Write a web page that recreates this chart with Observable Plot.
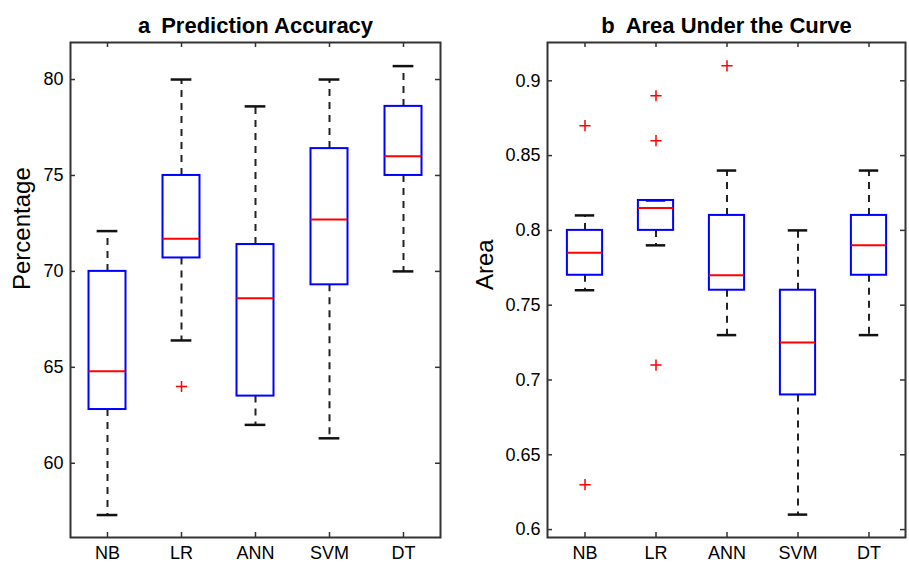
<!DOCTYPE html>
<html><head><meta charset="utf-8">
<script src="https://cdn.jsdelivr.net/npm/d3@7"></script>
<script src="https://cdn.jsdelivr.net/npm/@observablehq/plot@0.6"></script>
<style>
body{margin:0;background:#fff;}
#wrap{position:relative;width:909px;height:566px;overflow:hidden;}
#a,#b{position:absolute;top:0;}
#a{left:0px} #b{left:455px}
</style></head><body><div id="wrap"><div id="a"></div><div id="b"></div></div>
<script>
const categories = ["NB", "LR", "ANN", "SVM", "DT"];

// Panel a: Prediction Accuracy (Percentage)
const accLowerWhisker = [57.3, 66.4, 62.0, 61.3, 70.0];
const accQ1           = [62.8, 70.7, 63.5, 69.3, 75.0];
const accMedian       = [64.8, 71.7, 68.6, 72.7, 76.0];
const accQ3           = [70.0, 75.0, 71.4, 76.4, 78.6];
const accUpperWhisker = [72.1, 80.0, 78.6, 80.0, 80.7];
const accOutlierCats   = ["LR"];
const accOutlierValues = [64.0];
const accTicks = [60, 65, 70, 75, 80];

// Panel b: Area Under the Curve
const aucLowerWhisker = [0.76, 0.79, 0.73, 0.61, 0.73];
const aucQ1           = [0.77, 0.80, 0.76, 0.69, 0.77];
const aucMedian       = [0.785, 0.815, 0.77, 0.725, 0.79];
const aucQ3           = [0.80, 0.82, 0.81, 0.76, 0.81];
const aucUpperWhisker = [0.81, 0.82, 0.84, 0.80, 0.84];
const aucOutlierCats   = ["NB", "NB", "LR", "LR", "LR", "ANN"];
const aucOutlierValues = [0.87, 0.63, 0.89, 0.86, 0.71, 0.91];
const aucTicks = [0.6, 0.65, 0.7, 0.75, 0.8, 0.85, 0.9];

function panel({title, ylabel, yDomain, ticks, lo, q1, med, q3, hi, oc, ov, width, marginLeft, marginRight, labelDx}) {
  const height = 566, marginTop = 42, marginBottom = 29;
  const fw = width - marginLeft - marginRight;
  const fh = height - marginTop - marginBottom;
  const bw = fw / categories.length;
  const boxInset = bw * 0.25, capInset = bw * 0.36;
  const stats = categories.map((c, i) => ({cat: c, lo: lo[i], q1: q1[i], med: med[i], q3: q3[i], hi: hi[i]}));
  const outliers = oc.map((c, i) => ({cat: c, value: ov[i]}));
  const axisColor = "#333";
  return Plot.plot({
    width, height, marginTop, marginBottom, marginLeft, marginRight,
    style: {fontFamily: "'Liberation Sans', Arial, Helvetica, sans-serif", fontSize: "18px", color: "#000", background: "#fff"},
    x: {type: "band", domain: categories, padding: 0},
    y: {domain: yDomain},
    marks: [
      Plot.axisX({tickSize: 0, tickPadding: 9, label: null, fontSize: 18}),
      Plot.axisY({ticks, tickSize: 0, tickPadding: 7, tickFormat: d => String(d), label: null, fontSize: 18}),
      Plot.tickY(ticks, {y: d => d, insetRight: fw - 5, stroke: axisColor, strokeWidth: 1.5}),
      Plot.tickY(ticks, {y: d => d, insetLeft: fw - 5, stroke: axisColor, strokeWidth: 1.5}),
      Plot.tickX(categories, {x: d => d, insetTop: fh - 5, stroke: axisColor, strokeWidth: 1.5}),
      Plot.tickX(categories, {x: d => d, insetBottom: fh - 5, stroke: axisColor, strokeWidth: 1.5}),
      Plot.ruleX(stats, {x: "cat", y1: "q3", y2: "hi", stroke: "#222", strokeWidth: 2, strokeDasharray: "7,6"}),
      Plot.ruleX(stats, {x: "cat", y1: "q1", y2: "lo", stroke: "#222", strokeWidth: 2, strokeDasharray: "7,6"}),
      Plot.tickY(stats, {x: "cat", y: "hi", insetLeft: capInset, insetRight: capInset, stroke: "#111", strokeWidth: 2.5}),
      Plot.tickY(stats, {x: "cat", y: "lo", insetLeft: capInset, insetRight: capInset, stroke: "#111", strokeWidth: 2.5}),
      Plot.barY(stats, {x: "cat", y1: "q1", y2: "q3", insetLeft: boxInset, insetRight: boxInset, fill: "none", stroke: "#0000ff", strokeWidth: 2}),
      Plot.tickY(stats, {x: "cat", y: "med", insetLeft: boxInset, insetRight: boxInset, stroke: "#ff0000", strokeWidth: 2}),
      Plot.dot(outliers, {x: "cat", y: "value", symbol: "plus", r: 3.7, stroke: "#ff0000", strokeWidth: 1.5}),
      Plot.frame({stroke: axisColor, strokeWidth: 2}),
      Plot.text([title], {frameAnchor: "top", dy: -10, lineAnchor: "bottom", fontSize: 22, fontWeight: "bold", fill: "#000"}),
      Plot.text([ylabel], {frameAnchor: "left", dx: -labelDx, rotate: -90, fontSize: 24, fill: "#000"})
    ]
  });
}

document.getElementById("a").appendChild(panel({
  title: "a\u2002Prediction Accuracy", ylabel: "Percentage",
  yDomain: [56.13, 81.93], ticks: accTicks,
  lo: accLowerWhisker, q1: accQ1, med: accMedian, q3: accQ3, hi: accUpperWhisker,
  oc: accOutlierCats, ov: accOutlierValues,
  width: 455, marginLeft: 70, marginRight: 15, labelDx: 48
}));
document.getElementById("b").appendChild(panel({
  title: "b\u2002Area Under the Curve", ylabel: "Area",
  yDomain: [0.5947, 0.9256], ticks: aucTicks,
  lo: aucLowerWhisker, q1: aucQ1, med: aucMedian, q3: aucQ3, hi: aucUpperWhisker,
  oc: aucOutlierCats, ov: aucOutlierValues,
  width: 454, marginLeft: 92, marginRight: 4, labelDx: 62
}));
</script></body></html>
